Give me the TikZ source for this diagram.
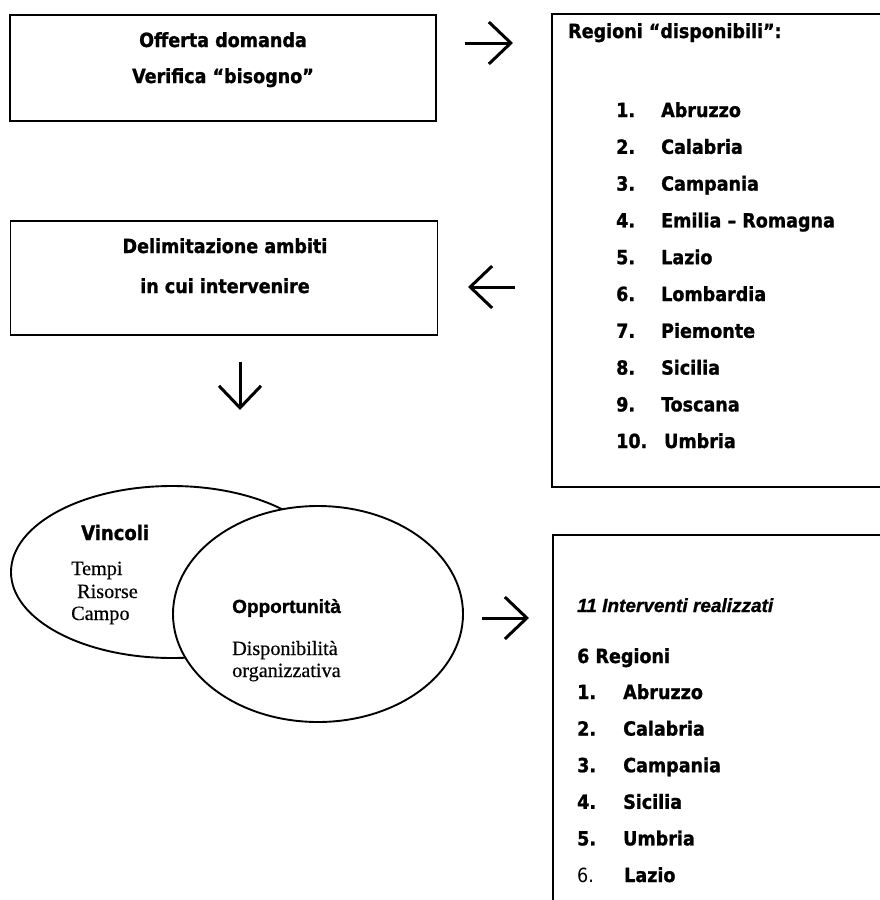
\documentclass[tikz,border=0pt]{standalone}
\usepackage{fontspec}
\usetikzlibrary{arrows.meta,shapes.geometric}
\newfontfamily\vsans{DejaVu Sans Condensed}[BoldFeatures={FakeBold=1.2}]
\newfontfamily\asans{Liberation Sans}[BoldFeatures={FakeBold=1.0},BoldItalicFeatures={FakeBold=1.0}]
\newfontfamily\tserif{Liberation Serif}[FakeBold=0.4]
\begin{document}
\begin{tikzpicture}[x=1pt,y=-1pt,
  vb/.style={font=\vsans\bfseries\fontsize{19.5}{22}\selectfont, anchor=base west, inner sep=0pt},
  vbc/.style={vb, anchor=base},
  vr/.style={font=\vsans\fontsize{19.5}{22}\selectfont, anchor=base west, inner sep=0pt},
  ser/.style={font=\tserif\fontsize{20.2}{22}\selectfont, anchor=base west, inner sep=0pt},
  boxline/.style={line width=1.8pt},
  barb/.style={line width=3pt, -{Straight Barb[length=22pt,width=42pt]}},
  ell/.style={draw, ellipse, line width=1.9pt, inner sep=0pt}
]
\useasboundingbox (0,0) rectangle (880,900);
\clip (0,0) rectangle (880,900);
\fill[white] (0,0) rectangle (880,900);

% left boxes
\node[draw, boxline, minimum width=426pt, minimum height=106pt, inner sep=0pt] (boxA) at (223,68) {};
\node[vbc] (tA1) at (223,47) {Offerta domanda};
\node[vbc] (tA2) at (223,83) {Verifica “bisogno”};

\node[draw, boxline, minimum width=427pt, minimum height=114pt, inner sep=0pt] (boxB) at (224,278) {};
\node[vbc] (tB1) at (225,253) {Delimitazione ambiti};
\node[vbc] (tB2) at (225,293) {in cui intervenire};

% right box 1 (open to the right)
\draw[boxline] (900,14) -- (552,14) -- (552,487) -- (900,487);
\node[vb] (r1t) at (568,38) {Regioni “disponibili”:};
\foreach \n/\name [count=\k from 0] in {1./Abruzzo,2./Calabria,3./Campania,4./Emilia – Romagna,5./Lazio,6./Lombardia,7./Piemonte,8./Sicilia,9./Toscana}{
  \node[vb] (r1n\k) at (616,117+36.8*\k) {\n};
  \node[vb] (r1m\k) at (661,117+36.8*\k) {\name};
}
\node[vb] (r1n9) at (616,448) {10.};
\node[vb] (r1m9) at (664,448) {Umbria};

% right box 2 (open right and bottom)
\draw[boxline] (900,535) -- (553,535) -- (553,910);
\node[font=\asans\bfseries\itshape\fontsize{19}{22}\selectfont, anchor=base west, inner sep=0pt] (r2t) at (577,612) {11 Interventi realizzati};
\node[vb] (r2s) at (577,663) {6 Regioni};
\foreach \n/\name [count=\k from 0] in {1./Abruzzo,2./Calabria,3./Campania,4./Sicilia,5./Umbria}{
  \node[vb] (r2n\k) at (577,699+36.6*\k) {\n};
  \node[vb] (r2m\k) at (623,699+36.6*\k) {\name};
}
\node[vr] (r2n5) at (577,882) {6.};
\node[vb] (r2m5) at (624,882) {Lazio};

% ellipses
\node[ell, minimum width=322pt, minimum height=172pt] (vinc) at (172,572) {};
\node[ell, fill=white, minimum width=290pt, minimum height=216pt] (opp) at (318,614) {};
\node[vb, font=\vsans\bfseries\fontsize{20}{22}\selectfont] (tv) at (81,540) {Vincoli};
\node[ser] (tv1) at (71,575) {Tempi};
\node[ser] (tv2) at (77,598) {Risorse};
\node[ser] (tv3) at (71,620) {Campo};
\node[font=\asans\bfseries\fontsize{19}{22}\selectfont, anchor=base west, inner sep=0pt] (to) at (232,613) {Opportunità};
\node[ser] (to1) at (232,655) {Disponibilità};
\node[ser] (to2) at (232,677) {organizzativa};

% arrows
\coordinate (a1s) at (465,43);
\coordinate (a1e) at (513,43);
\coordinate (a2s) at (515,287);
\coordinate (a2e) at (468,287);
\coordinate (a3s) at (240,362);
\coordinate (a3e) at (240,410);
\coordinate (a4s) at (482,618);
\coordinate (a4e) at (529,618);
\draw[barb] (a1s) -- (a1e);
\draw[barb] (a2s) -- (a2e);
\draw[barb] (a3s) -- (a3e);
\draw[barb] (a4s) -- (a4e);
\end{tikzpicture}
\end{document}
